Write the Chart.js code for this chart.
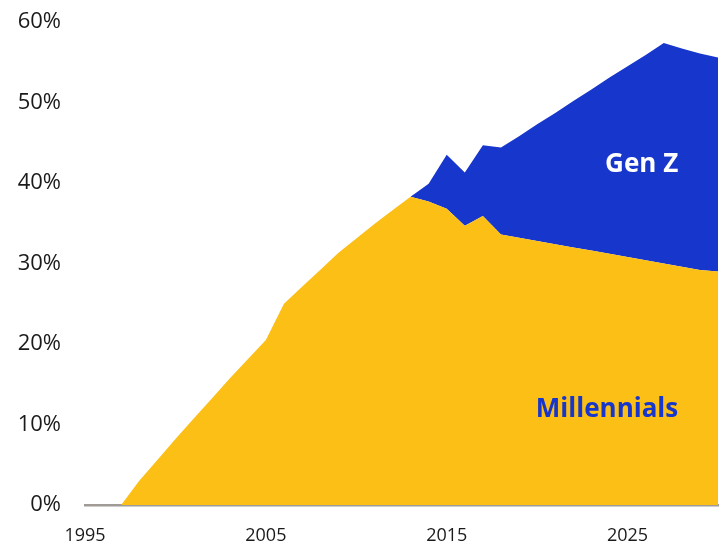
<!DOCTYPE html>
<html>
<head>
<meta charset="utf-8">
<script src="https://cdn.jsdelivr.net/npm/chart.js@4"></script>
<style>
  html, body { margin: 0; padding: 0; background: #fff; }
  #wrap { width: 724px; height: 541px; }
</style>
</head>
<body>
<div id="wrap"><canvas id="canvas" width="724" height="541"></canvas></div>
<script>
var years = [1997, 1998, 1999, 2000, 2001, 2002, 2003, 2004, 2005, 2006, 2007, 2008, 2009,
    2010, 2011, 2012, 2013, 2014, 2015, 2016, 2017, 2018, 2019, 2020, 2021, 2022, 2023,
    2024, 2025, 2026, 2027, 2028, 2029, 2030];

var millennials = [0, 3.0, 5.6, 8.2, 10.7, 13.2, 15.7, 18.1, 20.5, 25.0, 27.1, 29.2, 31.3,
    33.1, 34.9, 36.6, 38.3, 37.7, 36.8, 34.7, 35.9, 33.6, 33.2, 32.8, 32.4, 32.0, 31.6,
    31.2, 30.8, 30.4, 30.0, 29.6, 29.2, 29.0];

var genZ = [null, null, null, null, null, null, null, null, null, null, null, null, null,
    null, null, null, 0, 2.2, 6.7, 6.6, 8.8, 10.8, 12.6, 14.5, 16.3, 18.2, 20.0,
    21.9, 23.7, 25.5, 27.4, 27.1, 26.9, 26.6];

var xTicks = [1995, 2005, 2015, 2025];
var yTicks = [0, 10, 20, 30, 40, 50, 60];

var seriesLabels = [
    { text: 'Gen Z', x: 2027.8, y: 41.4, color: '#ffffff' },
    { text: 'Millennials', x: 2027.8, y: 10.9, color: '#1736cc' }
];

// names written straight onto the areas
var areaLabels = {
    id: 'areaLabels',
    afterDatasetsDraw: function(chart) {
        var ctx = chart.ctx;
        var xs = chart.scales.x, ys = chart.scales.y;
        ctx.save();
        ctx.font = 'bold 26px "Open Sans"';
        ctx.textAlign = 'right';
        ctx.textBaseline = 'alphabetic';
        seriesLabels.forEach(function(l) {
            ctx.fillStyle = l.color;
            ctx.fillText(l.text, xs.getPixelForValue(l.x), ys.getPixelForValue(l.y));
        });
        ctx.restore();
    }
};

window.onload = function() {
    var ctx = document.getElementById('canvas').getContext('2d');
    window.chart = new Chart(ctx, {
        type: 'line',
        data: {
            labels: years,
            datasets: [{
                label: 'Millennials',
                data: millennials,
                backgroundColor: '#fbbf15',
                borderWidth: 0,
                pointRadius: 0,
                fill: 'origin'
            }, {
                label: 'Gen Z',
                data: genZ,
                backgroundColor: '#1736cc',
                borderWidth: 0,
                pointRadius: 0,
                fill: '-1'
            }]
        },
        plugins: [areaLabels],
        options: {
            responsive: false,
            animation: false,
            layout: { padding: { top: 22, right: 6, left: 0, bottom: 0 } },
            plugins: {
                legend: { display: false },
                tooltip: { enabled: false },
                title: { display: false }
            },
            scales: {
                x: {
                    type: 'linear',
                    min: 1995,
                    max: 2030,
                    grid: { display: false, drawTicks: false },
                    border: { display: true, color: '#a09b96', width: 2.5 },
                    afterBuildTicks: function(s) {
                        s.ticks = xTicks.map(function(v) { return { value: v }; });
                    },
                    afterFit: function(s) {
                        s.height = 36;
                        s.paddingLeft = 0;
                        s.paddingRight = 0;
                    },
                    ticks: {
                        autoSkip: false,
                        maxRotation: 0,
                        padding: 20,
                        color: '#1a1a1a',
                        font: { family: '"Liberation Sans Narrow", "Open Sans"', size: 18 },
                        callback: function(v) { return String(v); }
                    }
                },
                y: {
                    stacked: true,
                    min: 0,
                    max: 60,
                    grid: { display: false, drawTicks: false },
                    border: { display: false },
                    afterBuildTicks: function(s) {
                        s.ticks = yTicks.map(function(v) { return { value: v }; });
                    },
                    afterFit: function(s) {
                        s.width = 85;
                        s.paddingTop = 0;
                        s.paddingBottom = 0;
                    },
                    ticks: {
                        padding: 24,
                        color: '#1a1a1a',
                        font: { family: '"Open Sans"', size: 22 },
                        callback: function(v) { return v + '%'; }
                    }
                }
            }
        }
    });
};
</script>
</body>
</html>
